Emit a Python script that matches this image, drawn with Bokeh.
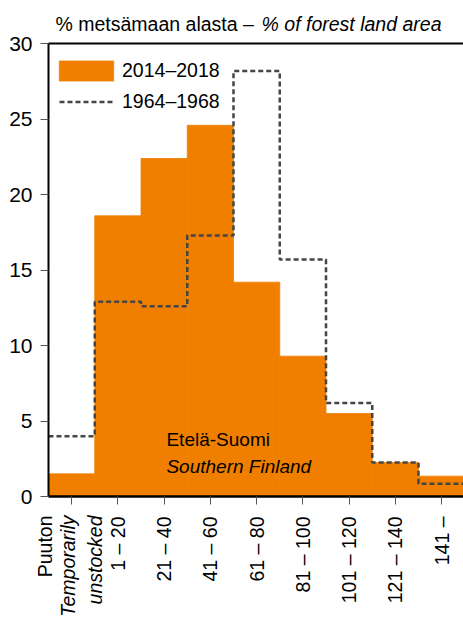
import math
from bokeh.plotting import figure
from bokeh.models import Range1d, FixedTicker, LinearAxis, Label, Legend, LegendItem
from bokeh.embed import file_html
from bokeh.resources import INLINE

# ---- data ----
categories = ["Puuton", "1 – 20", "21 – 40", "41 – 60", "61 – 80",
              "81 – 100", "101 – 120", "121 – 140", "141 –"]
first_label_lines = ["Puuton", "Temporarily", "unstocked"]
values_2014_2018 = [1.5, 18.6, 22.4, 24.6, 14.2, 9.3, 5.5, 2.25, 1.35]
values_1964_1968 = [4.0, 12.9, 12.6, 17.3, 28.2, 15.7, 6.2, 2.25, 0.85]
y_ticks = [0, 5, 10, 15, 20, 25, 30]
series_names = ["2014–2018", "1964–1968"]
title_fi = "% metsämaan alasta –"
title_en = "% of forest land area"
region_fi = "Etelä-Suomi"
region_en = "Southern Finland"

ORANGE = "#F07F00"
DASH = "#454545"
FONT = "Liberation Sans"

W, H = 463, 618
X0, XW = 48, 46.25        # screen x of value 0, px per bin
Y0, YS = 496, 15.09       # screen y of value 0, px per unit
x_end = (W - X0) / XW
p = figure(width=W, height=H, output_backend="svg", toolbar_location=None,
           x_range=Range1d(-X0 / XW, x_end),
           y_range=Range1d(-(H - Y0) / YS, Y0 / YS),
           min_border=0)
p.outline_line_color = None
p.grid.visible = False

centers = [i + 0.5 for i in range(len(categories))]
bars = p.vbar(x=centers, top=values_2014_2018, bottom=0, width=1.0,
              fill_color=ORANGE, line_color=ORANGE, line_width=0.8)

step_x, step_y = [], []
for i, v in enumerate(values_1964_1968):
    step_x += [i, i + 1]
    step_y += [v, v]
line = p.line(step_x, step_y, line_color=DASH, line_width=2.5, line_dash="5 3")

# x axis
xa = p.xaxis[0]
xa.fixed_location = 0
xa.bounds = (0, x_end)
xa.ticker = FixedTicker(ticks=centers)
overrides = {c: lab for c, lab in zip(centers, categories)}
overrides[centers[0]] = ""
xa.major_label_overrides = overrides
xa.major_label_orientation = math.pi / 2
xa.axis_line_width = 2.5
xa.axis_line_color = "black"
xa.major_tick_out = 8
xa.major_tick_in = 0
xa.major_tick_line_color = "#555555"
xa.minor_tick_line_color = None
xa.major_label_text_font = FONT
xa.major_label_text_font_size = "19.5px"
xa.major_label_text_color = "black"
xa.major_label_standoff = 12

# y axis
ya = p.yaxis[0]
ya.fixed_location = 0
ya.bounds = (0, 30)
ya.ticker = FixedTicker(ticks=y_ticks)
ya.axis_line_width = 2
ya.axis_line_color = "black"
ya.major_tick_out = 8
ya.major_tick_in = 0
ya.major_tick_line_color = "#555555"
ya.minor_tick_line_color = None
ya.major_label_text_font = FONT
ya.major_label_text_font_size = "21px"
ya.major_label_text_color = "black"
ya.major_label_standoff = 8

# top border line
top_axis = LinearAxis(ticker=FixedTicker(ticks=[]), fixed_location=30,
                      bounds=(0, x_end), axis_line_width=2,
                      axis_line_color="black", major_tick_out=0, major_tick_in=0,
                      minor_tick_out=0, minor_tick_in=0,
                      major_label_text_font_size="0px")
p.add_layout(top_axis, "above")

# legends (one per series so that each swatch gets its own size)
common = dict(margin=0, padding=0, label_text_font=FONT,
              label_text_font_size="19.5px", label_text_color="black",
              border_line_color=None, background_fill_alpha=0)
legend_bars = Legend(items=[LegendItem(label=series_names[0], renderers=[bars])],
                     location=(52, 535.5), glyph_width=68, glyph_height=25,
                     label_standoff=2, **common)
legend_line = Legend(items=[LegendItem(label=series_names[1], renderers=[line])],
                     location=(59, 505.5), glyph_width=54, glyph_height=23,
                     label_standoff=9, **common)
p.add_layout(legend_bars)
p.add_layout(legend_line)

# title
p.add_layout(Label(x=0.151, y=31.28, text=title_fi, text_font=FONT,
                   text_font_size="19.5px", text_color="black",
                   text_baseline="alphabetic", text_align="left"))
p.add_layout(Label(x=8.497, y=31.28, text=title_en, text_font=FONT,
                   text_font_size="19.5px", text_font_style="italic",
                   text_color="black", text_baseline="alphabetic",
                   text_align="right"))

# region annotation
p.add_layout(Label(x=2.55, y=3.78, text=region_fi, text_font=FONT,
                   text_font_size="19px", text_color="black",
                   text_baseline="alphabetic"))
p.add_layout(Label(x=2.55, y=2.02, text=region_en, text_font=FONT,
                   text_font_size="19px", text_font_style="italic",
                   text_color="black", text_baseline="alphabetic"))

# first category label (three lines)
first_x = [-0.065, 0.432, 1.015]
first_styles = ["normal", "italic", "italic"]
for lx, txt, st in zip(first_x, first_label_lines, first_styles):
    p.add_layout(Label(x=lx, y=-1.26, text=txt, angle=math.pi / 2,
                       text_font=FONT, text_font_size="19.5px",
                       text_font_style=st, text_color="black",
                       text_align="right", text_baseline="alphabetic"))

open("out.html", "w").write(file_html(p, INLINE))
